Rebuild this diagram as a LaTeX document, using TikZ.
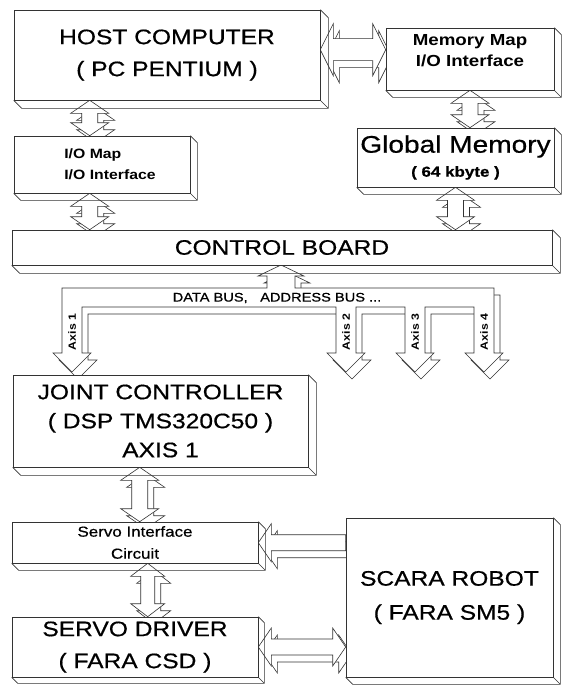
\documentclass[tikz,border=0pt]{standalone}
\usepackage{fontspec}
\setmainfont{Liberation Sans}[FakeStretch=1.17]
\newfontfamily\heavyfont{Liberation Sans}[FakeStretch=1.17, FakeBold=0.6]
\usetikzlibrary{calc,backgrounds}

\definecolor{ink}{gray}{0.2}

% sizes of the block arrows
\tikzset{headw/.store in=\headw, shaftw/.store in=\shaftw, headl/.store in=\headl}

% right and bottom faces of a box
\newcommand{\slab}[2][8]{%
  \draw[rim] (#2.north east) -- ++(#1,#1) -- ($(#2.south east)+(#1,#1)$)
    -- ($(#2.south west)+(#1,#1)$) -- (#2.south west)
    (#2.south east) -- ++(#1,#1);}

\begin{document}
\begin{tikzpicture}[x=1pt, y=-1pt,
  headw=19pt, shaftw=8pt, headl=13pt,
  box/.style={draw=ink, fill=white, line width=.6pt, inner sep=0pt, align=center},
  rim/.style={draw=ink, line width=.6pt},
  blk/.style={draw=ink, fill=white, line width=.6pt,
    preaction={draw=ink, fill=white, line width=.6pt, transform canvas={shift={(6pt,-7pt)}}}},
  vdbl/.style={to path={let \p1=(\tikztostart), \p2=(\tikztotarget) in
    (\x1,\y1) -- (\x1+\headw,\y1-\headl) -- (\x1+\shaftw,\y1-\headl) -- (\x1+\shaftw,\y2+\headl)
    -- (\x1+\headw,\y2+\headl) -- (\x1,\y2) -- (\x1-\headw,\y2+\headl) -- (\x1-\shaftw,\y2+\headl)
    -- (\x1-\shaftw,\y1-\headl) -- (\x1-\headw,\y1-\headl) -- cycle}},
  hdbl/.style={to path={let \p1=(\tikztostart), \p2=(\tikztotarget) in
    (\x1,\y1) -- (\x1+\headl,\y1+\headw) -- (\x1+\headl,\y1+\shaftw) -- (\x2-\headl,\y1+\shaftw)
    -- (\x2-\headl,\y1+\headw) -- (\x2,\y1) -- (\x2-\headl,\y1-\headw) -- (\x2-\headl,\y1-\shaftw)
    -- (\x1+\headl,\y1-\shaftw) -- (\x1+\headl,\y1-\headw) -- cycle}},
  lsgl/.style={to path={let \p1=(\tikztostart), \p2=(\tikztotarget) in
    (\x2,\y1) -- (\x2+\headl,\y1+\headw) -- (\x2+\headl,\y1+\shaftw) -- (\x1,\y1+\shaftw)
    -- (\x1,\y1-\shaftw) -- (\x2+\headl,\y1-\shaftw) -- (\x2+\headl,\y1-\headw) -- cycle}},
  bigtext/.style={font=\heavyfont\fontsize{21}{32}\selectfont},
  smalltext/.style={font=\bfseries\fontsize{16}{21}\selectfont},
  bustext/.style={font=\heavyfont\fontsize{12.5}{14}\selectfont},
  axistext/.style={font=\bfseries\fontsize{10.5}{12}\selectfont}
]
\useasboundingbox (0,0) rectangle (569,685);

\node[box, bigtext, minimum width=306pt, minimum height=90pt] (host) at (167,55)
  {HOST COMPUTER\\( PC PENTIUM )};
\node[box, smalltext, text depth=18pt, minimum width=168pt, minimum height=62pt] (memmap) at (470,59)
  {Memory Map\\I/O Interface};
\node[box, smalltext, font=\bfseries\fontsize{13.5}{21}\selectfont, align=left,
  minimum width=176pt, minimum height=57pt] (iomap) at (102,164.5)
  {\hspace*{16pt}I/O Map\\\hspace*{16pt}I/O Interface};
\node[box, font=\heavyfont\fontsize{24}{24}\selectfont, minimum width=197pt, minimum height=59pt] (glob) at (455.5,157.5)
  {Global Memory\\{\bfseries\fontsize{14.5}{18}\selectfont ( 64 kbyte )}};
\node[box, bigtext, minimum width=540pt, minimum height=35pt] (ctrl) at (282,247.5)
  {CONTROL BOARD};
\node[box, bigtext, font=\heavyfont\fontsize{21}{29}\selectfont, minimum width=295pt, minimum height=92pt] (joint) at (160.5,421)
  {JOINT CONTROLLER\\( DSP TMS320C50 )\\AXIS 1};
\node[box, font=\heavyfont\fontsize{14.5}{22}\selectfont, minimum width=246pt, minimum height=41pt] (servoif) at (135,542.5)
  {Servo Interface\\Circuit};
\node[box, bigtext, minimum width=246pt, minimum height=60pt] (driver) at (135,647)
  {SERVO DRIVER\\( FARA CSD )};
\node[box, bigtext, font=\heavyfont\fontsize{21}{34}\selectfont,
  minimum width=207pt, minimum height=159pt] (scara) at (449.5,597.5)
  {SCARA ROBOT\\( FARA SM5 )};

\slab{host}
\slab[7]{memmap}
\slab[7]{iomap}
\slab[7]{glob}
\slab{ctrl}
\slab{joint}
\slab[7]{servoif}
\slab[6]{driver}
\slab[7]{scara}

\begin{scope}[on background layer]
% links between the boards
\draw[blk, vdbl] ([xshift=76pt]host.south west) to (iomap.north);
\draw[blk, hdbl, headw=26pt, shaftw=11pt] ([yshift=-40pt]host.north east) to (memmap.west);
\draw[blk, vdbl] (memmap.south) to (glob.north);
\draw[blk, vdbl] ([xshift=76pt]iomap.south west) to (ctrl.north);
\draw[blk, vdbl] (glob.south) to (ctrl.north);
\draw[blk, vdbl] ([xshift=127pt]joint.south west) to (servoif.north);
\draw[blk, vdbl, headw=17pt, shaftw=7pt] ([xshift=136pt]servoif.south west) to (driver.north);
\draw[blk, lsgl] ([yshift=-25pt]scara.north west) to (servoif.east);
\draw[blk, hdbl] (driver.east) to (scara.west);
% data and address bus
\draw[blk] (62,353) -- (62,288) -- (267,288) -- (267,276) -- (258,276) -- (281,265)
  -- (304,276) -- (295,276) -- (295,288) -- (494,288) -- (494,353) -- (503,353)
  -- (484,372) -- (465,353) -- (474,353) -- (474,307) -- (425,307) -- (425,353)
  -- (434,353) -- (415,372) -- (396,353) -- (405,353) -- (405,307) -- (356,307)
  -- (356,353) -- (365,353) -- (346,372) -- (327,353) -- (336,353) -- (336,307)
  -- (82,307) -- (82,353) -- (91,353) -- (72,372) -- (53,353) -- cycle;
\end{scope}

\node[bustext] (bus) at (277,298) {DATA BUS,\quad ADDRESS BUS ...};
\foreach \x/\n in {72/1,346/2,415/3,484/4}
  \node[axistext, rotate=90] (axis\n) at (\x,332) {Axis \n};
\end{tikzpicture}
\end{document}
